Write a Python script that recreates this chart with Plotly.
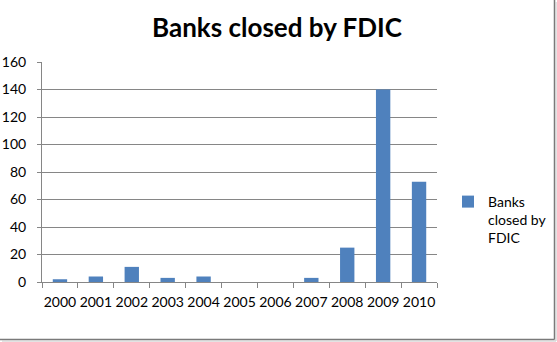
import plotly.graph_objects as go

years = ["2000", "2001", "2002", "2003", "2004", "2005", "2006", "2007", "2008", "2009", "2010"]
closed = [2, 4, 11, 3, 4, 0, 0, 3, 25, 140, 73]
series_name = "Banks<br>closed by<br>FDIC"
title_text = "Banks closed by FDIC"
y_ticks = [0, 20, 40, 60, 80, 100, 120, 140, 160]

W, H = 557, 342
L, R, T, B = 42, 120, 62, 60
pw, ph = W - L - R, H - T - B

def px_x(px):
    return (px - L) / pw

def px_y(py):
    return (H - B - py) / ph

fig = go.Figure()
fig.add_trace(go.Bar(
    x=years, y=closed, name=series_name,
    marker=dict(color="#4F81BD", line=dict(width=0)),
    showlegend=True,
))

fig.update_layout(
    width=W, height=H,
    margin=dict(l=L, r=R, t=T, b=B, autoexpand=False),
    paper_bgcolor="white", plot_bgcolor="white",
    bargap=0.6,
    font=dict(family="Lato, Open Sans, sans-serif", size=14, color="black"),
    title=dict(text="<b>" + title_text + "</b>", x=px_x(277), xref="paper", xanchor="center",
               y=1 - 28 / H, yanchor="middle",
               font=dict(family="Lato, Open Sans, sans-serif", size=26, color="black")),
    legend=dict(x=px_x(448), xanchor="left", y=px_y(186), yanchor="top",
                valign="top", font=dict(size=14), itemwidth=30, tracegroupgap=0,
                bgcolor="rgba(0,0,0,0)"),
    xaxis=dict(type="category", showline=True, linecolor="#868686", linewidth=1,
               ticks="outside", tickson="boundaries", ticklen=5, tickcolor="#868686",
               showgrid=False, tickangle=0, ticklabelstandoff=7, tickfont=dict(size=14)),
    yaxis=dict(range=[0, 160], tickvals=y_ticks, showline=True, linecolor="#868686", linewidth=1,
               ticks="outside", ticklen=4, tickcolor="#868686", ticklabelstandoff=8,
               showgrid=True, gridcolor="#868686", gridwidth=1, zeroline=False,
               tickfont=dict(size=14)),
    shapes=[
        dict(type="line", xref="paper", yref="paper", x0=px_x(554.5), x1=px_x(554.5),
             y0=px_y(0), y1=px_y(339.5), line=dict(color="#7a7a7a", width=1.5)),
        dict(type="line", xref="paper", yref="paper", x0=px_x(0), x1=px_x(554.5),
             y0=px_y(339.5), y1=px_y(339.5), line=dict(color="#7a7a7a", width=1.5)),
        dict(type="line", xref="paper", yref="paper", x0=px_x(556), x1=px_x(556),
             y0=px_y(2), y1=px_y(341), line=dict(color="#c8c8c8", width=1)),
        dict(type="line", xref="paper", yref="paper", x0=px_x(2), x1=px_x(556),
             y0=px_y(341), y1=px_y(341), line=dict(color="#c8c8c8", width=1)),
    ],
)

fig.write_html("out.html")
